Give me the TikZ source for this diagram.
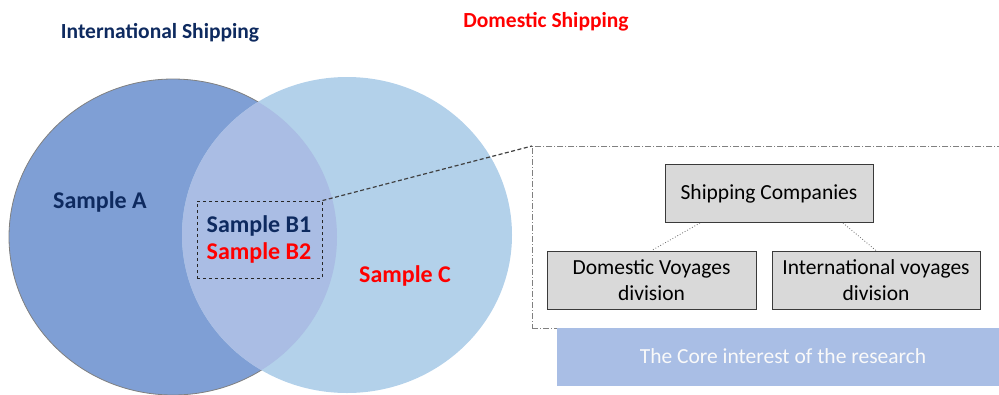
\documentclass[tikz,border=0pt]{standalone}
\usepackage{fontspec}
\setmainfont{Carlito}
\begin{document}
\begin{tikzpicture}[x=1pt,y=-1pt,
  navytext/.style={text=navyc,font=\bfseries\fontsize{24}{28}\selectfont},
  redtext/.style={text=redc,font=\bfseries\fontsize{24}{28}\selectfont},
  graybox/.style={draw=boxline,fill=boxfill,line width=0.9pt,minimum width=208pt,minimum height=58pt,align=center,font=\fontsize{21.5}{26}\selectfont,inner sep=0pt},
  linkline/.style={draw=gray!80!black,dotted,line width=0.8pt}]
\definecolor{navyc}{HTML}{0E2A5F}
\definecolor{redc}{HTML}{FF0000}
\definecolor{leftc}{HTML}{7F9FD5}
\definecolor{rightc}{HTML}{B3D1EA}
\definecolor{overc}{HTML}{AABDE4}
\definecolor{barc}{HTML}{A9BEE5}
\definecolor{boxfill}{HTML}{D9D9D9}
\definecolor{boxline}{HTML}{3A3A3A}
\useasboundingbox (0,0) rectangle (999,394);
\clip (0,0) rectangle (999,394);
% circles
\fill[leftc] (173,237) ellipse [x radius=164, y radius=158];
\draw[gray,line width=0.8pt] (173,237) ellipse [x radius=164, y radius=158];
\fill[rightc] (347,235) ellipse [x radius=165, y radius=158];
\begin{scope}
  \clip (173,237) ellipse [x radius=164, y radius=158];
  \fill[overc] (347,235) ellipse [x radius=165, y radius=158];
\end{scope}
% titles
\node[navytext,font=\bfseries\fontsize{21.5}{25}\selectfont] (intl) at (160,33) {International Shipping};
\node[redtext,font=\bfseries\fontsize{21.5}{25}\selectfont] (dom) at (546,22) {Domestic Shipping};
% samples
\node[navytext] (sa) at (100,202) {Sample A};
\node[navytext] (sb1) at (259,226) {Sample B1};
\node[redtext] (sb2) at (259,253) {Sample B2};
\node[redtext] (sc) at (405,276) {Sample C};
\node[draw=black!85,dashed,line width=0.9pt,minimum width=125pt,minimum height=77pt,inner sep=0pt] (bbox) at (259.5,239.5) {};
% zoom box
\node[draw=gray,line width=0.7pt,dash pattern=on 6pt off 2pt on 1pt off 2pt,minimum width=480pt,minimum height=182pt,inner sep=0pt,anchor=north west] (zoom) at (532,146) {};
\draw[black!75,line width=1.2pt,dash pattern=on 4pt off 2.5pt] (bbox.north east) -- (zoom.north west);
% boxes
\node[graybox] (ship) at (769,193.5) {Shipping Companies};
\node[graybox,minimum width=209pt] (dv) at (651.5,280) {Domestic Voyages\\division};
\node[graybox] (iv) at (876,280) {International voyages\\division};
\coordinate (s1) at (700,223);
\coordinate (s2) at (843,223);
\draw[linkline] (s1) -- (dv.north);
\draw[linkline] (s2) -- (iv.north);
% bar
\node[fill=barc,minimum width=450pt,minimum height=58pt,anchor=north west,inner sep=0pt] (bar) at (557,328) {};
\node[text=white!95!gray,font=\fontsize{21.5}{25}\selectfont] (bartext) at (783,356) {The Core interest of the research};
\end{tikzpicture}
\end{document}
